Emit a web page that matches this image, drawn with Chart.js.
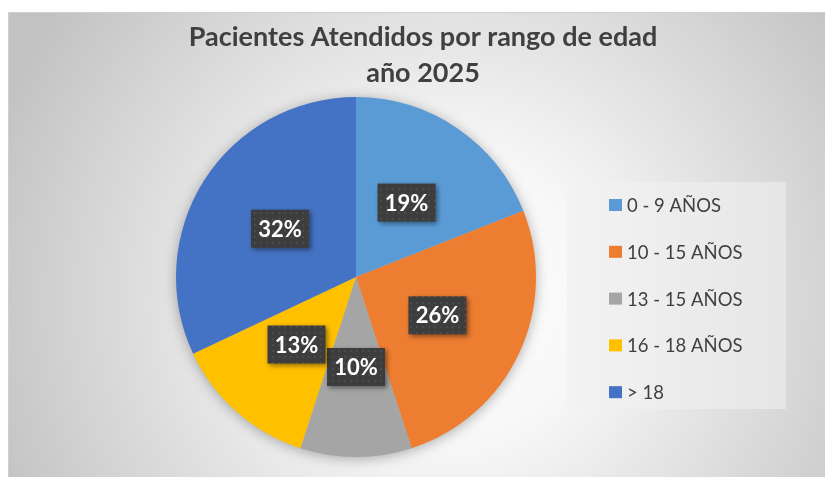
<!DOCTYPE html>
<html>
<head>
<meta charset="utf-8">
<script src="https://cdn.jsdelivr.net/npm/chart.js@4.4.1/dist/chart.umd.min.js"></script>
<style>
  body { margin: 0; background: #fff; }
  #wrap { width: 825px; height: 477px; }
</style>
</head>
<body>
<div id="wrap"><canvas id="myChart" width="825" height="477"></canvas></div>
<script>
const ctx = document.getElementById('myChart').getContext('2d')

const titleLines = ["Pacientes Atendidos por rango de edad", "año 2025"]
const categories = ["0 - 9 AÑOS", "10 - 15 AÑOS", "13 - 15 AÑOS", "16 - 18 AÑOS", "> 18"]
const percentages = [19, 26, 10, 13, 32]
const sliceColors = ["#5B9BD5", "#ED7D31", "#A5A5A5", "#FFC000", "#4472C4"]

// dotted dark fill for the value boxes
const makePattern = () => {
    const p = document.createElement('canvas')
    p.width = 6
    p.height = 6
    const pc = p.getContext('2d')
    pc.fillStyle = '#3d3d3d'
    pc.fillRect(0, 0, 6, 6)
    pc.fillStyle = '#4a4a4a'
    pc.fillRect(2, 2, 2, 2)
    return ctx.createPattern(p, 'repeat')
}
const labelPattern = makePattern()

const backgroundPlugin = {
    id: 'background',
    beforeDraw: (chart) => {
        const c = chart.ctx
        c.save()
        c.fillStyle = '#fff'
        c.fillRect(0, 0, chart.width, chart.height)
        const g = c.createRadialGradient(450, 300, 0, 450, 300, 490)
        g.addColorStop(0, '#ffffff')
        g.addColorStop(0.3, '#f7f7f7')
        g.addColorStop(1, '#c2c2c2')
        c.fillStyle = g
        c.fillRect(8, 12, chart.width - 8, chart.height - 12)
        c.strokeStyle = '#cfcfcf'
        c.lineWidth = 1
        c.strokeRect(8.5, 12.5, chart.width - 8, chart.height - 12)

        // title
        c.fillStyle = '#404040'
        c.font = 'bold 27px Lato'
        c.textAlign = 'center'
        c.textBaseline = 'middle'
        c.fillText(titleLines[0], 423, 37)
        c.fillText(titleLines[1], 423, 73)

        // legend box
        const lg = c.createLinearGradient(567, 0, 786, 0)
        lg.addColorStop(0, '#f3f3f3')
        lg.addColorStop(1, '#e6e6e6')
        c.fillStyle = lg
        c.fillRect(567, 182, 219, 227)

        const labels = chart.data.labels
        const colors = chart.data.datasets[0].backgroundColor
        c.font = '18.5px Lato'
        c.textAlign = 'left'
        labels.forEach((label, i) => {
            const y = 205 + i * 46.8
            c.fillStyle = colors[i]
            c.fillRect(609, y - 6, 13, 12)
            c.fillStyle = '#404040'
            c.fillText(label, 627, y + 1)
        })
        c.restore()
    },
    beforeDatasetsDraw: (chart) => {
        const arc = chart.getDatasetMeta(0).data[0]
        if (!arc) return
        const c = chart.ctx
        c.save()
        c.shadowColor = 'rgba(0,0,0,0.35)'
        c.shadowBlur = 14
        c.shadowOffsetX = 0
        c.shadowOffsetY = 2
        c.fillStyle = '#bbb'
        c.beginPath()
        c.arc(arc.x, arc.y, arc.outerRadius - 1, 0, Math.PI * 2)
        c.fill()
        c.restore()
    }
}

const valueLabels = {
    id: 'valueLabels',
    afterDatasetsDraw: (chart) => {
        const c = chart.ctx
        const meta = chart.getDatasetMeta(0)
        c.save()
        c.font = 'bold 22px Lato'
        c.textAlign = 'center'
        c.textBaseline = 'middle'
        meta.data.forEach((arc, i) => {
            const pos = arc.tooltipPosition()
            const w = 58, h = 38
            c.save()
            c.shadowColor = 'rgba(0,0,0,0.45)'
            c.shadowBlur = 5
            c.shadowOffsetX = 2
            c.shadowOffsetY = 2
            c.fillStyle = labelPattern
            c.fillRect(pos.x - w / 2, pos.y - h / 2, w, h)
            c.restore()
            c.fillStyle = '#ffffff'
            c.fillText(percentages[i] + '%', pos.x, pos.y + 1)
        })
        c.restore()
    }
}

const chart = new Chart(ctx, {
    type: 'pie',
    data: {
        labels: categories,
        datasets: [{
            data: percentages,
            backgroundColor: sliceColors,
            borderWidth: 0
        }]
    },
    options: {
        responsive: false,
        devicePixelRatio: 1,
        animation: false,
        layout: {
            padding: { top: 97, bottom: 20, left: 0, right: 113 }
        },
        plugins: {
            legend: { display: false },
            title: { display: false },
            tooltip: { enabled: false }
        }
    },
    plugins: [backgroundPlugin, valueLabels]
})
</script>
</body>
</html>
